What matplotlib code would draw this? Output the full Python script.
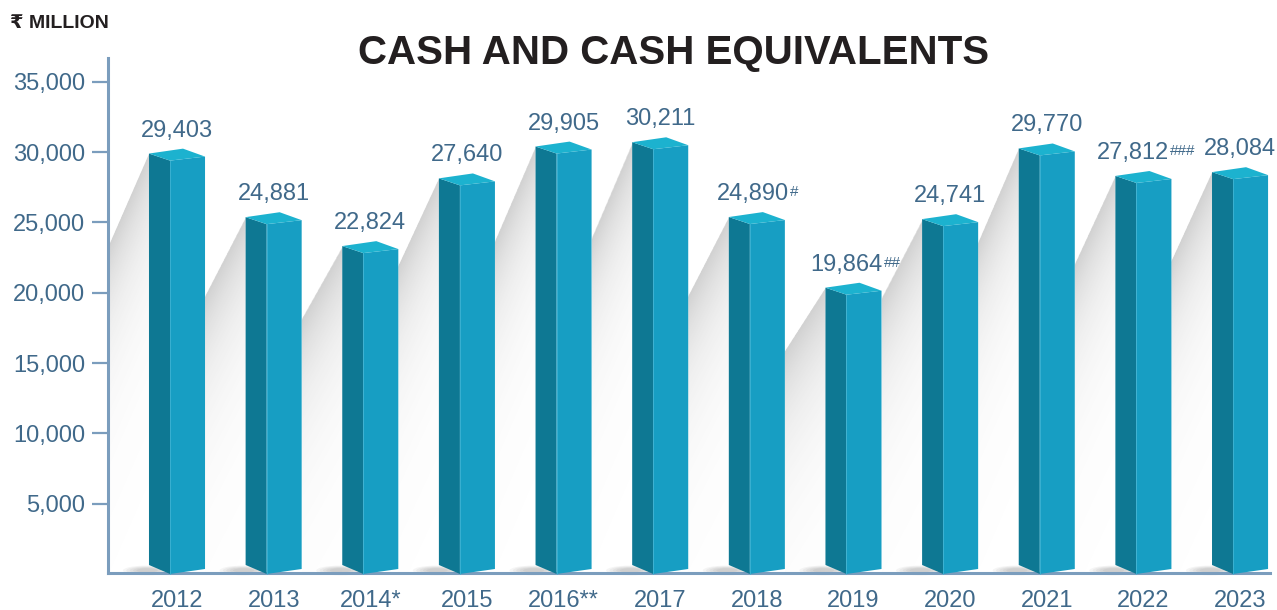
import matplotlib.pyplot as plt
import numpy as np
from matplotlib.patches import Polygon, Ellipse

years = ['2012', '2013', '2014*', '2015', '2016**', '2017',
         '2018', '2019', '2020', '2021', '2022', '2023']
cash = [29403, 24881, 22824, 27640, 29905, 30211,
        24890, 19864, 24741, 29770, 27812, 28084]
notes = ['', '', '', '', '', '', '#', '##', '', '', '###', '']
y_ticks = [5000, 10000, 15000, 20000, 25000, 30000, 35000]
y_labels = ['5,000', '10,000', '15,000', '20,000', '25,000', '30,000', '35,000']

plt.rcParams['font.family'] = ['Liberation Sans', 'DejaVu Sans']

TXT = '#40698a'
SPINE = '#7b9dbd'
LEFT = '#0e7893'
RIGHT = '#179ec3'
TOP = '#1cb2cf'

fig = plt.figure(figsize=(12.77, 6.10), dpi=100)
ax = fig.add_axes([108 / 1277, 37 / 610, 1162 / 1277, 515 / 610])
ax.set_xlim(-0.714, 11.31)
ax.set_ylim(70, 36700)

# shadows cast to the lower left of every bar
L = 1.9
for i, v in enumerate(cash):
    xl = i - 0.29
    top_y = v + 500
    xc = max(i - 1 + 0.29, -0.714)
    xs = np.linspace(xc, xl, 120)
    ys = np.linspace(0, top_y, 300)
    X, Y = np.meshgrid(xs, ys)
    edge = top_y * (1 - (xl - X) / L)
    d = edge - Y
    rgba = np.zeros(X.shape + (4,))
    rgba[..., :3] = 0.35
    rgba[..., 3] = np.where(d >= 0, 0.28 * np.exp(-d / 5500), 0)
    im = ax.imshow(rgba, extent=[xc, xl, 0, top_y], origin='lower', aspect='auto',
                   interpolation='bilinear', zorder=1)
    clip = Polygon([(xl, top_y), (xc, top_y * (1 - (xl - xc) / L)), (xc, 0), (xl, 0)],
                   transform=ax.transData)
    im.set_clip_path(clip)
    # soft shadow at the foot
    for k in range(5):
        ax.add_patch(Ellipse((xl - 0.02, 250), 0.5 - 0.07 * k, 700 - 100 * k,
                             color='k', alpha=0.04, lw=0, zorder=2, clip_on=False))

# 3d bars
for i, v in enumerate(cash):
    xl, xf, xr, xb = i - 0.29, i - 0.0725, i + 0.29, i + 0.062
    ax.add_patch(Polygon([(xl, 640), (xf, 0), (xf, v), (xl, v + 500)],
                         fc=LEFT, lw=0, zorder=3, clip_on=False))
    ax.add_patch(Polygon([(xf, 0), (xr, 355), (xr, v + 285), (xf, v)],
                         fc=RIGHT, lw=0, zorder=3, clip_on=False))
    ax.add_patch(Polygon([(xl, v + 500), (xf, v), (xr, v + 285), (xb, v + 850)],
                         fc=TOP, lw=0, zorder=3, clip_on=False))
    ax.plot([xf, xf], [0, v], color='#3fb3d3', lw=0.6, zorder=4, clip_on=False)

# value labels
for i, (v, n) in enumerate(zip(cash, notes)):
    t = ax.annotate(f'{v:,}', (i, v), xytext=(-3.5 * len(n), 24), textcoords='offset pixels',
                    ha='center', va='baseline', fontsize=17, color=TXT, zorder=5)
    if n:
        ax.annotate(n, xy=(1, 1), xycoords=t, xytext=(1, -2), textcoords='offset pixels',
                    ha='left', va='top', fontsize=11, color=TXT, zorder=5)

ax.set_xticks(range(len(years)), years)
ax.set_yticks(y_ticks, y_labels)
ax.tick_params(axis='x', length=0, pad=12.5, labelsize=17, labelcolor=TXT)
ax.tick_params(axis='y', length=11.5, width=1.6, color=SPINE, pad=5, labelsize=17, labelcolor=TXT)
for s in ['top', 'right']:
    ax.spines[s].set_visible(False)
for s in ['left', 'bottom']:
    ax.spines[s].set_color(SPINE)
    ax.spines[s].set_linewidth(2.2)

fig.text(674 / 1277, 1 - 53 / 610, 'CASH AND CASH EQUIVALENTS', ha='center', va='center',
         fontsize=29, fontweight='bold', color='#231f20')
fig.text(10 / 1277, 1 - 24 / 610, '₹ MILLION', ha='left', va='center',
         fontsize=14, fontweight='bold', color='#231f20')

fig.savefig('out.png', dpi=100)
